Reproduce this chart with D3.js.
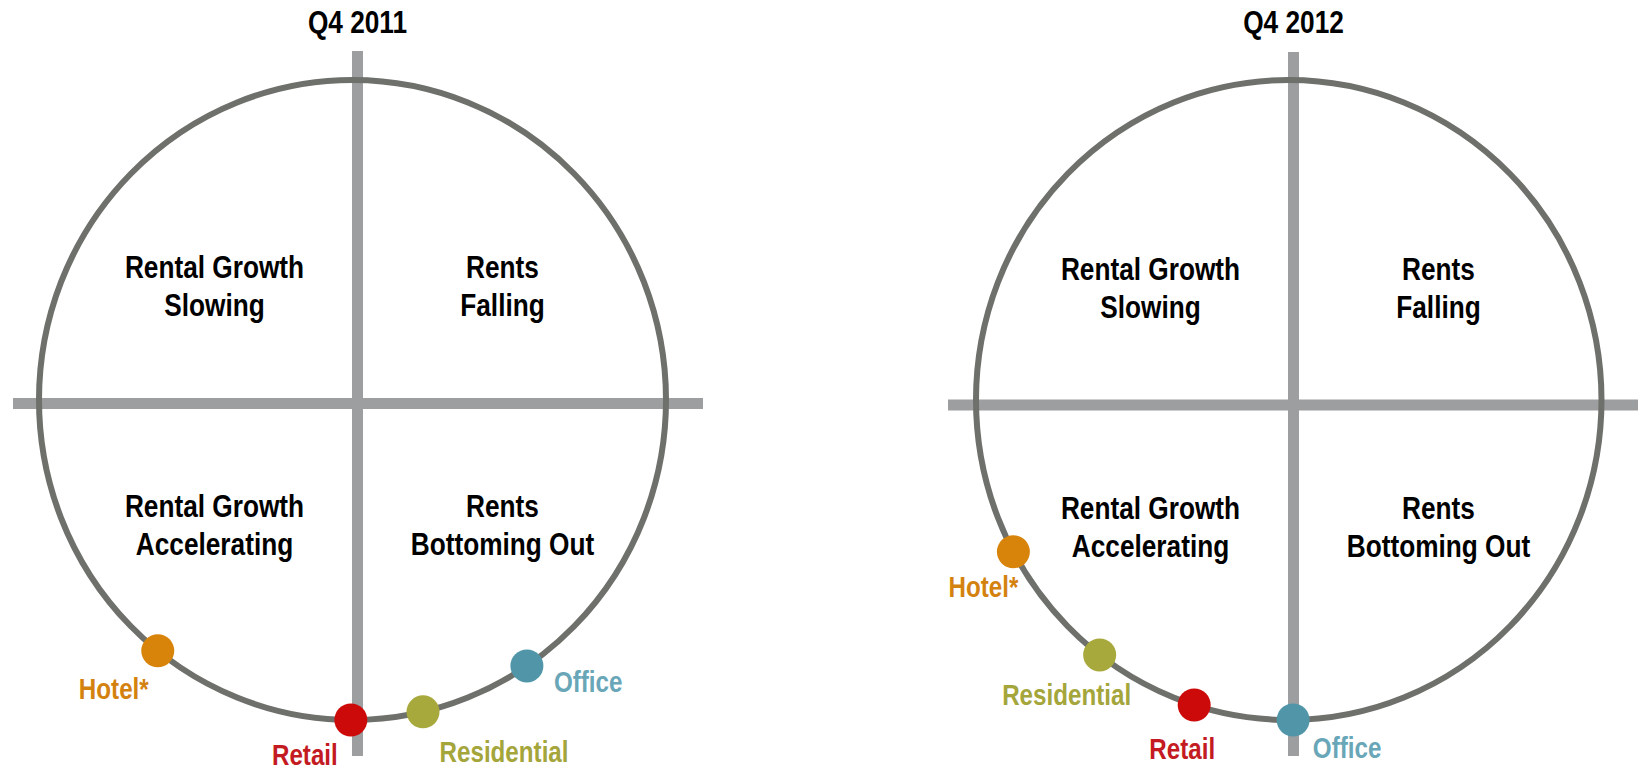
<!DOCTYPE html>
<html>
<head>
<meta charset="utf-8">
<script src="https://cdn.jsdelivr.net/npm/d3@7/dist/d3.min.js"></script>
<style>
  body { margin: 0; background: #fff; }
  svg { display: block; }
  text { font-family: "Liberation Sans", Arial, sans-serif; font-weight: bold; }
</style>
</head>
<body>
<div id="chart"></div>
<script>
// data
const periods = ["Q4 2011", "Q4 2012"];
const sectors = ["Hotel*", "Retail", "Residential", "Office"];
// cycle position, degrees clockwise from 6 o'clock
const position2011 = [38.4, 0.3, -13.0, -33.8];
const position2012 = [61.7, 17.6, 37.2, -0.8];
const quadrantLabels = [
  ["Rental Growth", "Slowing"],
  ["Rents", "Falling"],
  ["Rental Growth", "Accelerating"],
  ["Rents", "Bottoming Out"]
];

// styles
const dotColor = { "Hotel*": "#d8840b", "Retail": "#cc0a0a", "Residential": "#a8a93c", "Office": "#5196a8" };
const textColor = { "Hotel*": "#d4820f", "Retail": "#c41a22", "Residential": "#a4a53a", "Office": "#68a6b8" };
const narrow = 0.82; // condensed look

// layout
const W = 1638, H = 769;
const panels = [
  { title: periods[0], pos: position2011, cx: 352.5, cy: 400, rx: 313.5, ry: 320, ax: 357.5, ay: 403.5,
    vTop: 51, vBot: 756, hL: 13, hR: 703,
    offs: [[-44, 48, "middle"], [-46, 45, "middle"], [81, 50, "middle"], [27, 26, "start"]] },
  { title: periods[1], pos: position2012, cx: 1288.75, cy: 400, rx: 312.75, ry: 320, ax: 1293.5, ay: 405,
    vTop: 52, vBot: 756, hL: 948, hR: 1638,
    offs: [[-30, 45, "middle"], [-12, 54, "middle"], [-33, 50, "middle"], [54, 38, "middle"]] }
];
const quadOffsets = [[-143, -125.5], [145, -125.5], [-143, 113.5], [145, 113.5]];
const lineGap = 38;

const svg = d3.select("#chart").append("svg").attr("width", W).attr("height", H);
const angle = d3.scaleLinear().domain([0, 360]).range([0, 2 * Math.PI]);

function label(g, x, y, s, size, fill, anchor) {
  return g.append("text")
      .attr("transform", `translate(${x},${y}) scale(${narrow},1)`)
      .attr("text-anchor", anchor || "middle")
      .attr("font-size", size)
      .attr("fill", fill)
      .text(s);
}

panels.forEach(p => {
  const x = d3.scaleLinear().domain([-1, 1]).range([p.cx - p.rx, p.cx + p.rx]);
  const y = d3.scaleLinear().domain([-1, 1]).range([p.cy - p.ry, p.cy + p.ry]);
  const g = svg.append("g");

  // axes
  g.append("line")
      .attr("x1", p.hL).attr("x2", p.hR).attr("y1", p.ay).attr("y2", p.ay)
      .attr("stroke", "#9d9ea0").attr("stroke-width", 11);
  g.append("line")
      .attr("x1", p.ax).attr("x2", p.ax).attr("y1", p.vTop).attr("y2", p.vBot)
      .attr("stroke", "#9d9ea0").attr("stroke-width", 11);

  // cycle
  g.append("ellipse")
      .attr("cx", x(0)).attr("cy", y(0))
      .attr("rx", x(1) - x(0)).attr("ry", y(1) - y(0))
      .attr("fill", "none").attr("stroke", "#6e706b").attr("stroke-width", 6);

  // title
  label(g, p.ax, 33, p.title, 32, "#000");

  // quadrant labels
  quadrantLabels.forEach((lines, i) => {
    lines.forEach((s, j) => {
      label(g, p.ax + quadOffsets[i][0], p.ay + quadOffsets[i][1] + j * lineGap, s, 32, "#000");
    });
  });

  const pts = sectors.map((s, i) => {
    const a = angle(p.pos[i]);
    return { name: s, x: x(-Math.sin(a)), y: y(Math.cos(a)), off: p.offs[i] };
  });

  g.selectAll("circle.dot").data(pts).join("circle")
      .attr("class", "dot")
      .attr("cx", d => d.x).attr("cy", d => d.y).attr("r", 16.5)
      .attr("fill", d => dotColor[d.name]);

  pts.forEach(d => label(g, d.x + d.off[0], d.y + d.off[1], d.name, 29.5, textColor[d.name], d.off[2]));
});
</script>
</body>
</html>
